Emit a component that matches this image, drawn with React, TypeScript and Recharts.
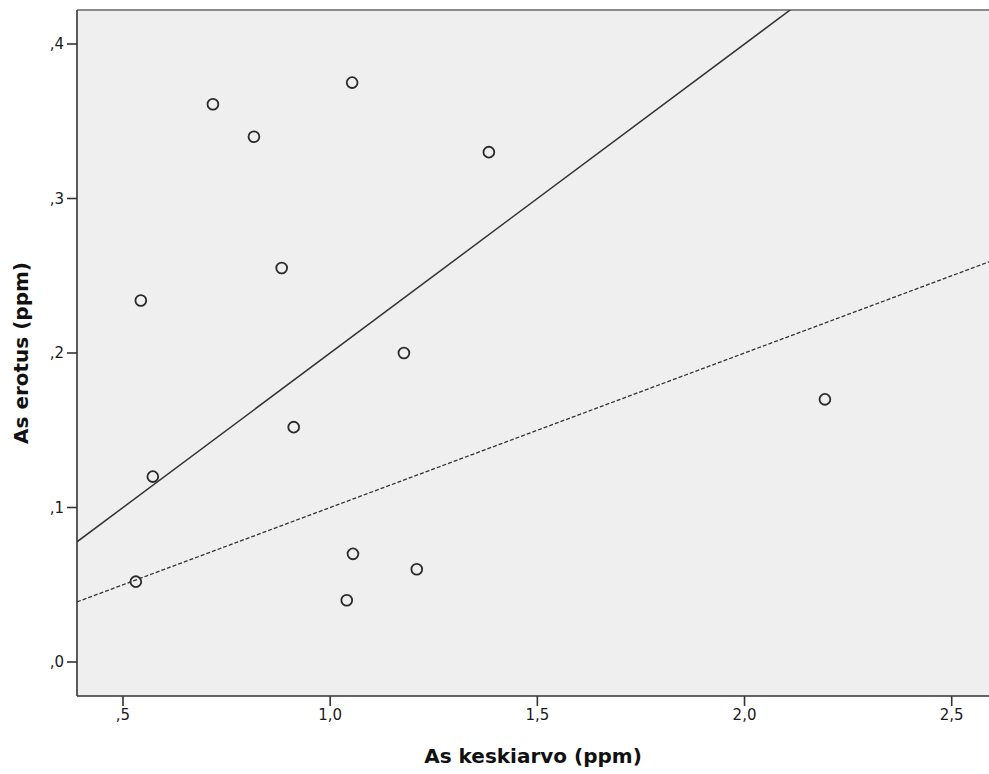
import React from 'react';
import {
  ComposedChart,
  Scatter,
  XAxis,
  YAxis,
  CartesianGrid,
  ReferenceLine,
  Label,
} from 'recharts';

// Data
const keskiarvo = [0.717, 0.816, 1.053, 1.383, 0.883, 0.543, 1.178, 0.912, 0.572, 0.531, 1.055, 1.209, 1.04, 2.194];
const erotus = [0.361, 0.34, 0.375, 0.33, 0.255, 0.234, 0.2, 0.152, 0.12, 0.052, 0.07, 0.06, 0.04, 0.17];
const xTicks = [0.5, 1.0, 1.5, 2.0, 2.5];
const yTicks = [0, 0.1, 0.2, 0.3, 0.4];
const xDomain: [number, number] = [0.389, 2.59];
const yDomain: [number, number] = [-0.022, 0.422];
const solidSlope = 0.2;
const dashedSlope = 0.1;

const points = keskiarvo.map((x, i) => ({ x, y: erotus[i] }));

const fmt = (v: number) => {
  const s = v.toFixed(1).replace('.', ',');
  return s.startsWith('0,') ? s.slice(1) : s;
};

const seg = (slope: number) => [
  { x: xDomain[0], y: slope * xDomain[0] },
  { x: xDomain[1], y: slope * xDomain[1] },
];

const tickStyle = { fontFamily: 'DejaVu Sans', fontSize: 15, fill: '#1a1a1a' };
const titleStyle = { fontFamily: 'DejaVu Sans', fontSize: 20, fontWeight: 'bold', fill: '#111' };

const Ring = (props: any) => {
  const { cx, cy } = props;
  if (cx == null || cy == null) return null;
  return <circle cx={cx} cy={cy} r={5.4} fill="none" stroke="#2a2a2a" strokeWidth={1.8} />;
};

export default function App() {
  return (
    <div style={{ position: 'absolute', left: 0, top: 0, background: '#fff' }}>
      <ComposedChart
        width={989}
        height={774}
        margin={{ top: 10, right: 0, bottom: 0, left: 0 }}
      >
        <CartesianGrid fill="#efefef" horizontal={false} vertical={false} />
        <XAxis
          type="number"
          dataKey="x"
          domain={xDomain}
          ticks={xTicks}
          allowDataOverflow
          tickFormatter={fmt}
          height={78}
          tickSize={10}
          tickMargin={3}
          tick={tickStyle}
          axisLine={{ stroke: '#333', strokeWidth: 1.6 }}
          tickLine={{ stroke: '#333', strokeWidth: 1.6 }}
        >
          <Label value="As keskiarvo (ppm)" position="insideBottom" offset={11} style={titleStyle} />
        </XAxis>
        <YAxis
          type="number"
          dataKey="y"
          domain={yDomain}
          ticks={yTicks}
          allowDataOverflow
          tickFormatter={fmt}
          width={77}
          tickSize={10}
          tickMargin={3}
          tick={tickStyle}
          axisLine={{ stroke: '#333', strokeWidth: 1.6 }}
          tickLine={{ stroke: '#333', strokeWidth: 1.6 }}
        >
          <Label
            value="As erotus (ppm)"
            angle={-90}
            position="insideLeft"
            offset={21}
            style={{ ...titleStyle, textAnchor: 'middle' }}
          />
        </YAxis>
        <ReferenceLine y={yDomain[1]} stroke="#8c8c8c" strokeWidth={2} ifOverflow="visible" />
        <ReferenceLine segment={seg(solidSlope)} stroke="#333" strokeWidth={1.5} ifOverflow="hidden" />
        <ReferenceLine
          segment={seg(dashedSlope)}
          stroke="#333"
          strokeWidth={1.3}
          strokeDasharray="4 2"
          ifOverflow="hidden"
        />
        <Scatter data={points} shape={<Ring />} isAnimationActive={false} />
      </ComposedChart>
    </div>
  );
}
